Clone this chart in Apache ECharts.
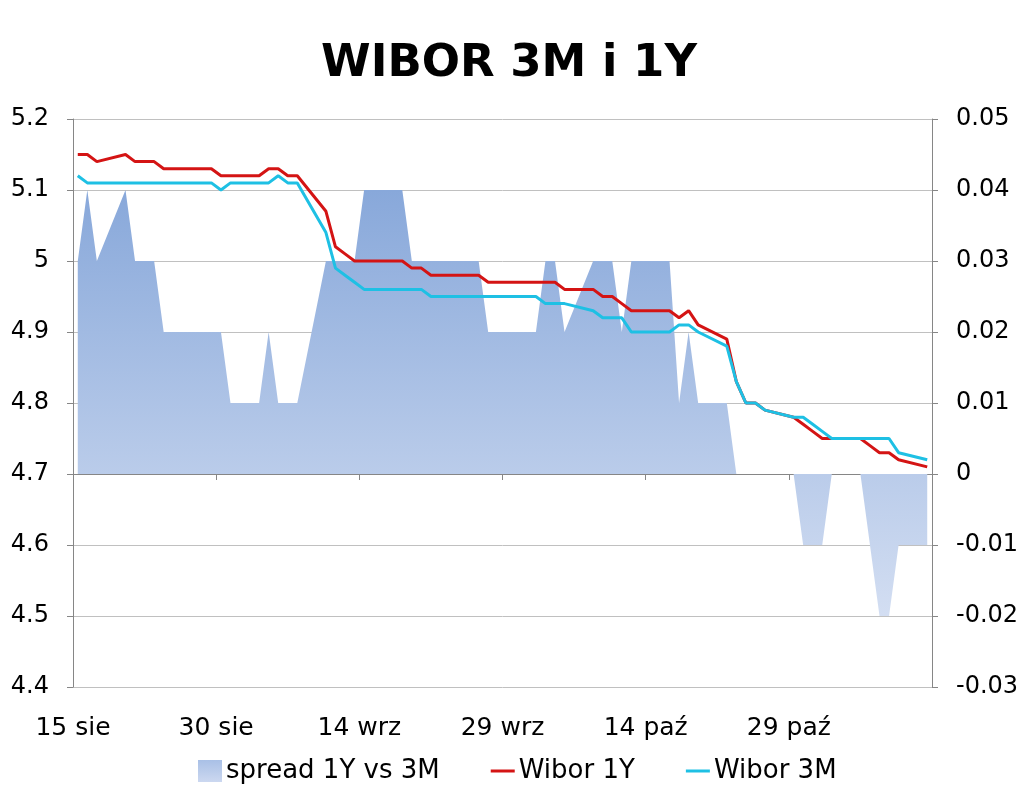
<!DOCTYPE html>
<html>
<head>
<meta charset="utf-8">
<script src="https://cdn.jsdelivr.net/npm/echarts@6/dist/echarts.min.js"></script>
<style>html,body{margin:0;padding:0;background:#fff}#c{width:1024px;height:791px}</style>
</head>
<body>
<div id="c"></div>
<script>
// ---- data ----
const startDate = '2012-08-15';
const dates = [
 '2012-08-15','2012-08-16','2012-08-17','2012-08-20','2012-08-21','2012-08-22','2012-08-23','2012-08-24',
 '2012-08-27','2012-08-28','2012-08-29','2012-08-30','2012-08-31',
 '2012-09-03','2012-09-04','2012-09-05','2012-09-06','2012-09-07',
 '2012-09-10','2012-09-11','2012-09-12','2012-09-13','2012-09-14',
 '2012-09-17','2012-09-18','2012-09-19','2012-09-20','2012-09-21',
 '2012-09-24','2012-09-25','2012-09-26','2012-09-27','2012-09-28',
 '2012-10-01','2012-10-02','2012-10-03','2012-10-04','2012-10-05',
 '2012-10-08','2012-10-09','2012-10-10','2012-10-11','2012-10-12',
 '2012-10-15','2012-10-16','2012-10-17','2012-10-18','2012-10-19',
 '2012-10-22','2012-10-23','2012-10-24','2012-10-25','2012-10-26',
 '2012-10-29','2012-10-30','2012-10-31','2012-11-01','2012-11-02',
 '2012-11-05','2012-11-06','2012-11-07','2012-11-08','2012-11-09',
 '2012-11-12'
];
const wibor1Y = [
 5.15,5.15,5.14,5.15,5.14,5.14,5.14,5.13,
 5.13,5.13,5.13,5.12,5.12,
 5.12,5.13,5.13,5.12,5.12,
 5.07,5.02,5.01,5.00,5.00,
 5.00,5.00,4.99,4.99,4.98,
 4.98,4.98,4.98,4.97,4.97,
 4.97,4.97,4.97,4.97,4.96,
 4.96,4.95,4.95,4.94,4.93,
 4.93,4.93,4.92,4.93,4.91,
 4.89,4.83,4.80,4.80,4.79,
 4.78,4.77,4.76,4.75,4.75,
 4.75,4.74,4.73,4.73,4.72,
 4.71
];
const wibor3M = [
 5.12,5.11,5.11,5.11,5.11,5.11,5.11,5.11,
 5.11,5.11,5.11,5.10,5.11,
 5.11,5.11,5.12,5.11,5.11,
 5.04,4.99,4.98,4.97,4.96,
 4.96,4.96,4.96,4.96,4.95,
 4.95,4.95,4.95,4.95,4.95,
 4.95,4.95,4.94,4.94,4.94,
 4.93,4.92,4.92,4.92,4.90,
 4.90,4.90,4.91,4.91,4.90,
 4.88,4.83,4.80,4.80,4.79,
 4.78,4.78,4.77,4.76,4.75,
 4.75,4.75,4.75,4.75,4.73,
 4.72
];
const spread = [
 0.03,0.04,0.03,0.04,0.03,0.03,0.03,0.02,
 0.02,0.02,0.02,0.02,0.01,
 0.01,0.02,0.01,0.01,0.01,
 0.03,0.03,0.03,0.03,0.04,
 0.04,0.04,0.03,0.03,0.03,
 0.03,0.03,0.03,0.02,0.02,
 0.02,0.02,0.03,0.03,0.02,
 0.03,0.03,0.03,0.02,0.03,
 0.03,0.03,0.01,0.02,0.01,
 0.01,0,0,0,0,
 0,-0.01,-0.01,-0.01,0,
 0,-0.01,-0.02,-0.02,-0.01,
 -0.01
];
const xTickLabels = ['15 sie','30 sie','14 wrz','29 wrz','14 paź','29 paź'];
const seriesNames = ['spread 1Y vs 3M','Wibor 1Y','Wibor 3M'];
const titleText = 'WIBOR 3M i 1Y';

// ---- build ----
const DAY = 86400000;
const t0 = Date.parse(startDate + 'T00:00:00Z');
// Excel date axis "between tick marks": each point sits in the middle of its day slot
const xs = dates.map(d => (Date.parse(d + 'T00:00:00Z') - t0) / DAY + 0.5);
const pair = arr => arr.map((v, i) => [xs[i], v]);

const FONT = 'DejaVu Sans';
const axisGray = '#868686';
const RED = '#D41414', CYAN = '#1EC0E4';
const lineIcon = 'path://M0,0 L24,0 L24,3 L0,3 Z';

const chart = echarts.init(document.getElementById('c'), null, {renderer: 'canvas'});
const areaGrad = new echarts.graphic.LinearGradient(0, 0, 0, 1, [
  {offset: 0, color: '#88A8DA'},
  {offset: 1, color: '#D3DEF2'}
]);
const legendGrad = new echarts.graphic.LinearGradient(0, 0, 0, 1, [
  {offset: 0, color: '#A9C0E6'},
  {offset: 1, color: '#CCD8F0'}
]);
chart.setOption({
  animation: false,
  backgroundColor: '#fff',
  title: {
    text: titleText, left: 316, top: 37,
    textStyle: {fontFamily: FONT, fontWeight: 'bold', fontSize: 45, color: '#000'}
  },
  legend: {
    left: 193, top: 753, itemGap: 51, itemWidth: 24, itemHeight: 22,
    symbolKeepAspect: true,
    textStyle: {fontFamily: FONT, fontSize: 26, color: '#000', padding: [0,0,0,-1]},
    data: [
      {name: seriesNames[0], icon: 'rect', itemStyle: {color: legendGrad}},
      {name: seriesNames[1], icon: lineIcon, itemStyle: {color: RED}},
      {name: seriesNames[2], icon: lineIcon, itemStyle: {color: CYAN}}
    ]
  },
  grid: {left: 73, right: 92, top: 119, bottom: 104, containLabel: false},
  xAxis: {
    type: 'value', min: 0, max: 90, interval: 15,
    axisLine: {show: true, lineStyle: {color: axisGray, width: 1}},
    axisTick: {show: true, length: 6, lineStyle: {color: axisGray}},
    splitLine: {show: false},
    axisLabel: {
      fontFamily: FONT, fontSize: 25, color: '#000', margin: 29,
      formatter: v => xTickLabels[Math.round(v / 15)] || ''
    }
  },
  yAxis: [
    {
      type: 'value', min: 4.4, max: 5.2, interval: 0.1, position: 'left',
      axisLine: {show: true, lineStyle: {color: axisGray}},
      axisTick: {show: true, length: 6, lineStyle: {color: axisGray}},
      splitLine: {show: true, lineStyle: {color: '#C0C0C0', width: 1}},
      axisLabel: {fontFamily: FONT, fontSize: 24, color: '#000', margin: 24,
        formatter: v => String(+v.toFixed(2))}
    },
    {
      type: 'value', min: -0.03, max: 0.05, interval: 0.01, position: 'right',
      axisLine: {show: true, lineStyle: {color: axisGray}},
      axisTick: {show: true, length: 6, lineStyle: {color: axisGray}},
      splitLine: {show: false},
      axisLabel: {fontFamily: FONT, fontSize: 24, color: '#000', margin: 24,
        formatter: v => String(+v.toFixed(3))}
    }
  ],
  series: [
    {
      name: seriesNames[0], type: 'line', yAxisIndex: 1, data: pair(spread),
      symbol: 'none', lineStyle: {width: 0}, itemStyle: {color: '#B4C8EA'},
      areaStyle: {color: areaGrad, opacity: 1}, z: 1
    },
    {
      name: seriesNames[1], type: 'line', yAxisIndex: 0, data: pair(wibor1Y),
      symbol: 'none', lineStyle: {width: 3, color: RED}, itemStyle: {color: RED}, z: 3
    },
    {
      name: seriesNames[2], type: 'line', yAxisIndex: 0, data: pair(wibor3M),
      symbol: 'none', lineStyle: {width: 3, color: CYAN}, itemStyle: {color: CYAN}, z: 4
    }
  ]
});
</script>
</body>
</html>
